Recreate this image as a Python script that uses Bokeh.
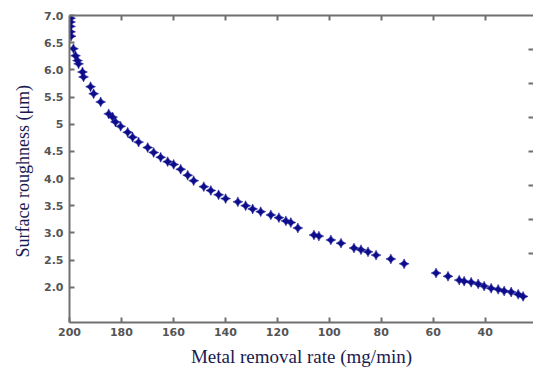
import math
from bokeh.plotting import figure
from bokeh.models import (ColumnDataSource, Range1d, FixedTicker, LinearAxis)
from bokeh.embed import file_html
from bokeh.resources import INLINE

# Data
mrr = [199.6, 199.6, 199.6, 199.6, 199.4, 198.5, 197.7, 196.9, 196.5, 195.0,
       194.6, 191.9, 190.7, 188.0, 184.9, 183.4, 182.3, 180.3, 177.6, 175.7,
       173.4, 169.9, 167.6, 164.9, 162.2, 159.9, 157.2, 154.5, 152.2, 148.3,
       145.6, 142.6, 139.9, 135.2, 132.2, 129.5, 126.4, 122.5, 119.4, 116.7,
       114.8, 112.1, 105.9, 104.0, 99.4, 95.5, 90.5, 87.8, 85.1, 82.0,
       76.3, 71.2, 58.9, 54.3, 50.0, 48.1, 45.4, 42.7, 40.4, 37.7,
       35.0, 32.7, 30.0, 27.3, 25.4]
ra = [6.95, 6.88, 6.80, 6.70, 6.62, 6.39, 6.26, 6.17, 6.11, 5.96,
      5.87, 5.69, 5.56, 5.41, 5.19, 5.13, 5.04, 4.96, 4.85, 4.76,
      4.67, 4.57, 4.48, 4.39, 4.31, 4.26, 4.17, 4.06, 3.96, 3.85,
      3.78, 3.70, 3.63, 3.57, 3.50, 3.44, 3.39, 3.33, 3.28, 3.22,
      3.19, 3.09, 2.96, 2.94, 2.87, 2.81, 2.72, 2.69, 2.65, 2.59,
      2.52, 2.43, 2.26, 2.20, 2.13, 2.11, 2.09, 2.06, 2.02, 1.98,
      1.96, 1.93, 1.91, 1.87, 1.83]

x_ticks = [200, 180, 160, 140, 120, 100, 80, 60, 40, 20]
y_ticks = [2.0, 2.5, 3.0, 3.5, 4.0, 4.5, 5.0, 5.5, 6.0, 6.5, 7.0]
y_tick_labels = ["2.0", "2.5", "3.0", "3.5", "4.0", "4.5", "5", "5.5", "6.0", "6.5", "7.0"]
right_ticks = [2, 3, 4, 5, 6, 7, 8]

src = ColumnDataSource(dict(x=mrr, y=ra))

tick_font = "DejaVu Sans"
tick_color = "#555555"
axis_color = "#707070"

p = figure(width=533, height=370, output_backend="svg", toolbar_location=None,
           x_range=Range1d(200, 21.4), y_range=Range1d(1.35, 7.0),
           min_border_left=69, min_border_top=0, min_border_right=0,
           min_border_bottom=48)
p.extra_y_ranges = {"r": Range1d(-0.047, 9.003)}
p.grid.visible = False
p.outline_line_color = None

p.scatter("x", "y", source=src, marker="square_pin", angle=math.pi / 4,
          size=7, fill_color="#0c0c8c", line_color="#0c0c8c", line_width=0.5)


def style_ticks(ax):
    ax.axis_line_color = axis_color
    ax.axis_line_width = 2
    ax.major_tick_in = 5
    ax.major_tick_out = 0
    ax.major_tick_line_color = axis_color
    ax.major_tick_line_width = 2
    ax.minor_tick_line_color = None


xa = p.xaxis[0]
xa.ticker = FixedTicker(ticks=x_ticks)
xa.axis_label = "Metal removal rate (mg/min)"
xa.axis_label_text_font = "Liberation Serif"
xa.axis_label_text_font_style = "normal"
xa.axis_label_text_font_size = "19px"
xa.axis_label_text_color = "#1a1a50"
xa.axis_label_standoff = 7
xa.major_label_text_font = tick_font
xa.major_label_text_font_style = "bold"
xa.major_label_text_font_size = "11px"
xa.major_label_text_color = tick_color
xa.major_label_standoff = 5
style_ticks(xa)

ya = p.yaxis[0]
ya.ticker = FixedTicker(ticks=y_ticks)
ya.major_label_overrides = {t: l for t, l in zip(y_ticks, y_tick_labels)}
ya.axis_label = "Surface  roughness (μm)"
ya.axis_label_text_font = "Liberation Serif"
ya.axis_label_text_font_style = "normal"
ya.axis_label_text_font_size = "18px"
ya.axis_label_text_color = "#1a1a50"
ya.axis_label_standoff = 8
ya.major_label_text_font = tick_font
ya.major_label_text_font_style = "bold"
ya.major_label_text_font_size = "11px"
ya.major_label_text_color = tick_color
ya.major_label_standoff = 6
style_ticks(ya)

# top axis: ticks only, labels painted white; its own size sets the top border
ta = LinearAxis(ticker=FixedTicker(ticks=x_ticks[1:]))
ta.major_label_text_font = tick_font
ta.major_label_text_font_size = "11px"
ta.major_label_text_color = "white"
ta.major_label_standoff = 4
style_ticks(ta)
p.add_layout(ta, "above")

# right axis: ticks only
ra_ax = LinearAxis(y_range_name="r", ticker=FixedTicker(ticks=right_ticks))
ra_ax.major_label_text_font_size = "2px"
ra_ax.major_label_text_alpha = 0
ra_ax.major_label_standoff = 0
style_ticks(ra_ax)
ra_ax.axis_line_color = None
p.add_layout(ra_ax, "right")

html = file_html(p, INLINE)
open("out.html", "w").write(html)
